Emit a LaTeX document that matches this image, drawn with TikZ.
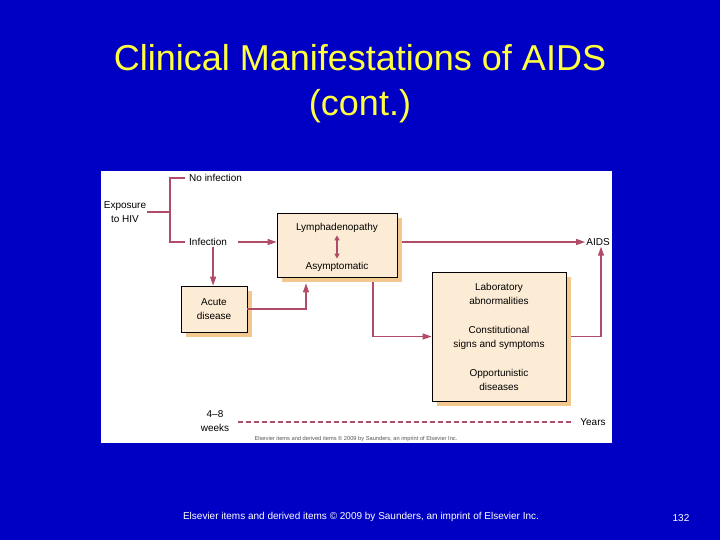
\documentclass[tikz,border=0pt]{standalone}
\usepackage{fontspec}
\setmainfont{Liberation Sans}
\usetikzlibrary{arrows.meta,positioning,calc,shadows}
\definecolor{slideblue}{HTML}{0000C4}
\definecolor{titleyellow}{HTML}{FFFF40}
\definecolor{linered}{HTML}{B04C68}
\definecolor{boxfill}{HTML}{FCEBD5}
\definecolor{boxshadow}{HTML}{F2C88E}
\definecolor{notegray}{HTML}{555555}

\begin{document}
\begin{tikzpicture}[
    x=1pt, y=-1pt,
    box/.style={rectangle, draw=black, line width=0.8pt, fill=boxfill, align=center,
        font=\fontsize{10}{14}\selectfont, inner sep=0pt,
        drop shadow={shadow xshift=5pt, shadow yshift=-5pt, fill=boxshadow, opacity=1}},
    txt/.style={font=\fontsize{10}{14}\selectfont, align=center, inner sep=1pt},
    arrow/.style={-{Triangle[length=9pt,width=6pt]}, linered, line width=1.3pt},
    link/.style={linered, line width=1.3pt}
]

% slide and white panel
\fill[slideblue] (0,0) rectangle (720,540);
\fill[white] (101,171) rectangle (612,443);

% title
\node[font=\fontsize{36}{45}\selectfont, text=titleyellow, align=center] (title) at (360,84)
    {Clinical Manifestations of AIDS\\(cont.)};

% start of the course
\node[txt] (exposure) at (125,212) {Exposure\\to HIV};
\node[txt, anchor=west] (noinf) at (188,178) {No infection};
\node[txt, anchor=west] (infect) at (188,242) {Infection};
\coordinate (fork) at (170,212);

% boxes
\node[box, minimum width=66pt, minimum height=46pt] (acute) at (214,309) {Acute\\disease};
\node[box, minimum width=120pt, minimum height=64pt] (lymph) at (337,245) {};
\node[txt, below=9pt of lymph.north] (lymphad) {Lymphadenopathy};
\node[txt, above=5pt of lymph.south] (asym) {Asymptomatic};
\node[box, minimum width=134pt, minimum height=129pt] (clinical) at (499,336.5)
    {Laboratory\\abnormalities\\[15pt]Constitutional\\signs and symptoms\\[15pt]Opportunistic\\diseases};
\node[txt] (aids) at (598,242) {AIDS};

% time axis
\node[txt] (weeks) at (215,421) {4--8\\weeks};
\node[txt] (years) at (593,422) {Years};

% connections
\draw[link] (exposure.east) -- (fork);
\draw[link] ([xshift=-3pt]noinf.west) -| (fork) |- ([xshift=-3pt]infect.west);
\draw[arrow] ([xshift=10pt]infect.east) -- (lymph.west |- infect.east);
\draw[arrow] ([xshift=5pt]infect.south) -- ([xshift=5pt]infect.south |- acute.north);
\draw[arrow] (acute.east) -| ([xshift=-31pt, yshift=-6pt]lymph.south);
\draw[{Triangle[length=5pt,width=5pt]}-{Triangle[length=5pt,width=5pt]}, linered, line width=1.3pt]
    ([yshift=-2pt]lymphad.south) -- ([yshift=2pt]asym.north);
\draw[arrow] ([xshift=5pt]lymph.east |- aids.west) -- (aids.west);
\draw[arrow] ([xshift=36pt, yshift=-5pt]lymph.south) |- (clinical.west);
\draw[arrow] ([xshift=5pt]clinical.east) -| ([xshift=3pt]aids.south);
\draw[linered, line width=1.3pt, dash pattern=on 5pt off 3pt] ([xshift=8pt]weeks.east |- years.west) -- ([xshift=-6pt]years.west);

% notes
\node[font=\fontsize{5.7}{6}\selectfont, text=notegray] (credit) at (356,439)
    {Elsevier items and derived items \textcopyright{} 2009 by Saunders, an imprint of Elsevier Inc.};
\node[font=\fontsize{10}{11}\selectfont, text=white] (footer) at (361,517)
    {Elsevier items and derived items \textcopyright{} 2009 by Saunders, an imprint of Elsevier Inc.};
\node[font=\fontsize{10}{11}\selectfont, text=white] (pagenum) at (681,518) {132};

\end{tikzpicture}
\end{document}
